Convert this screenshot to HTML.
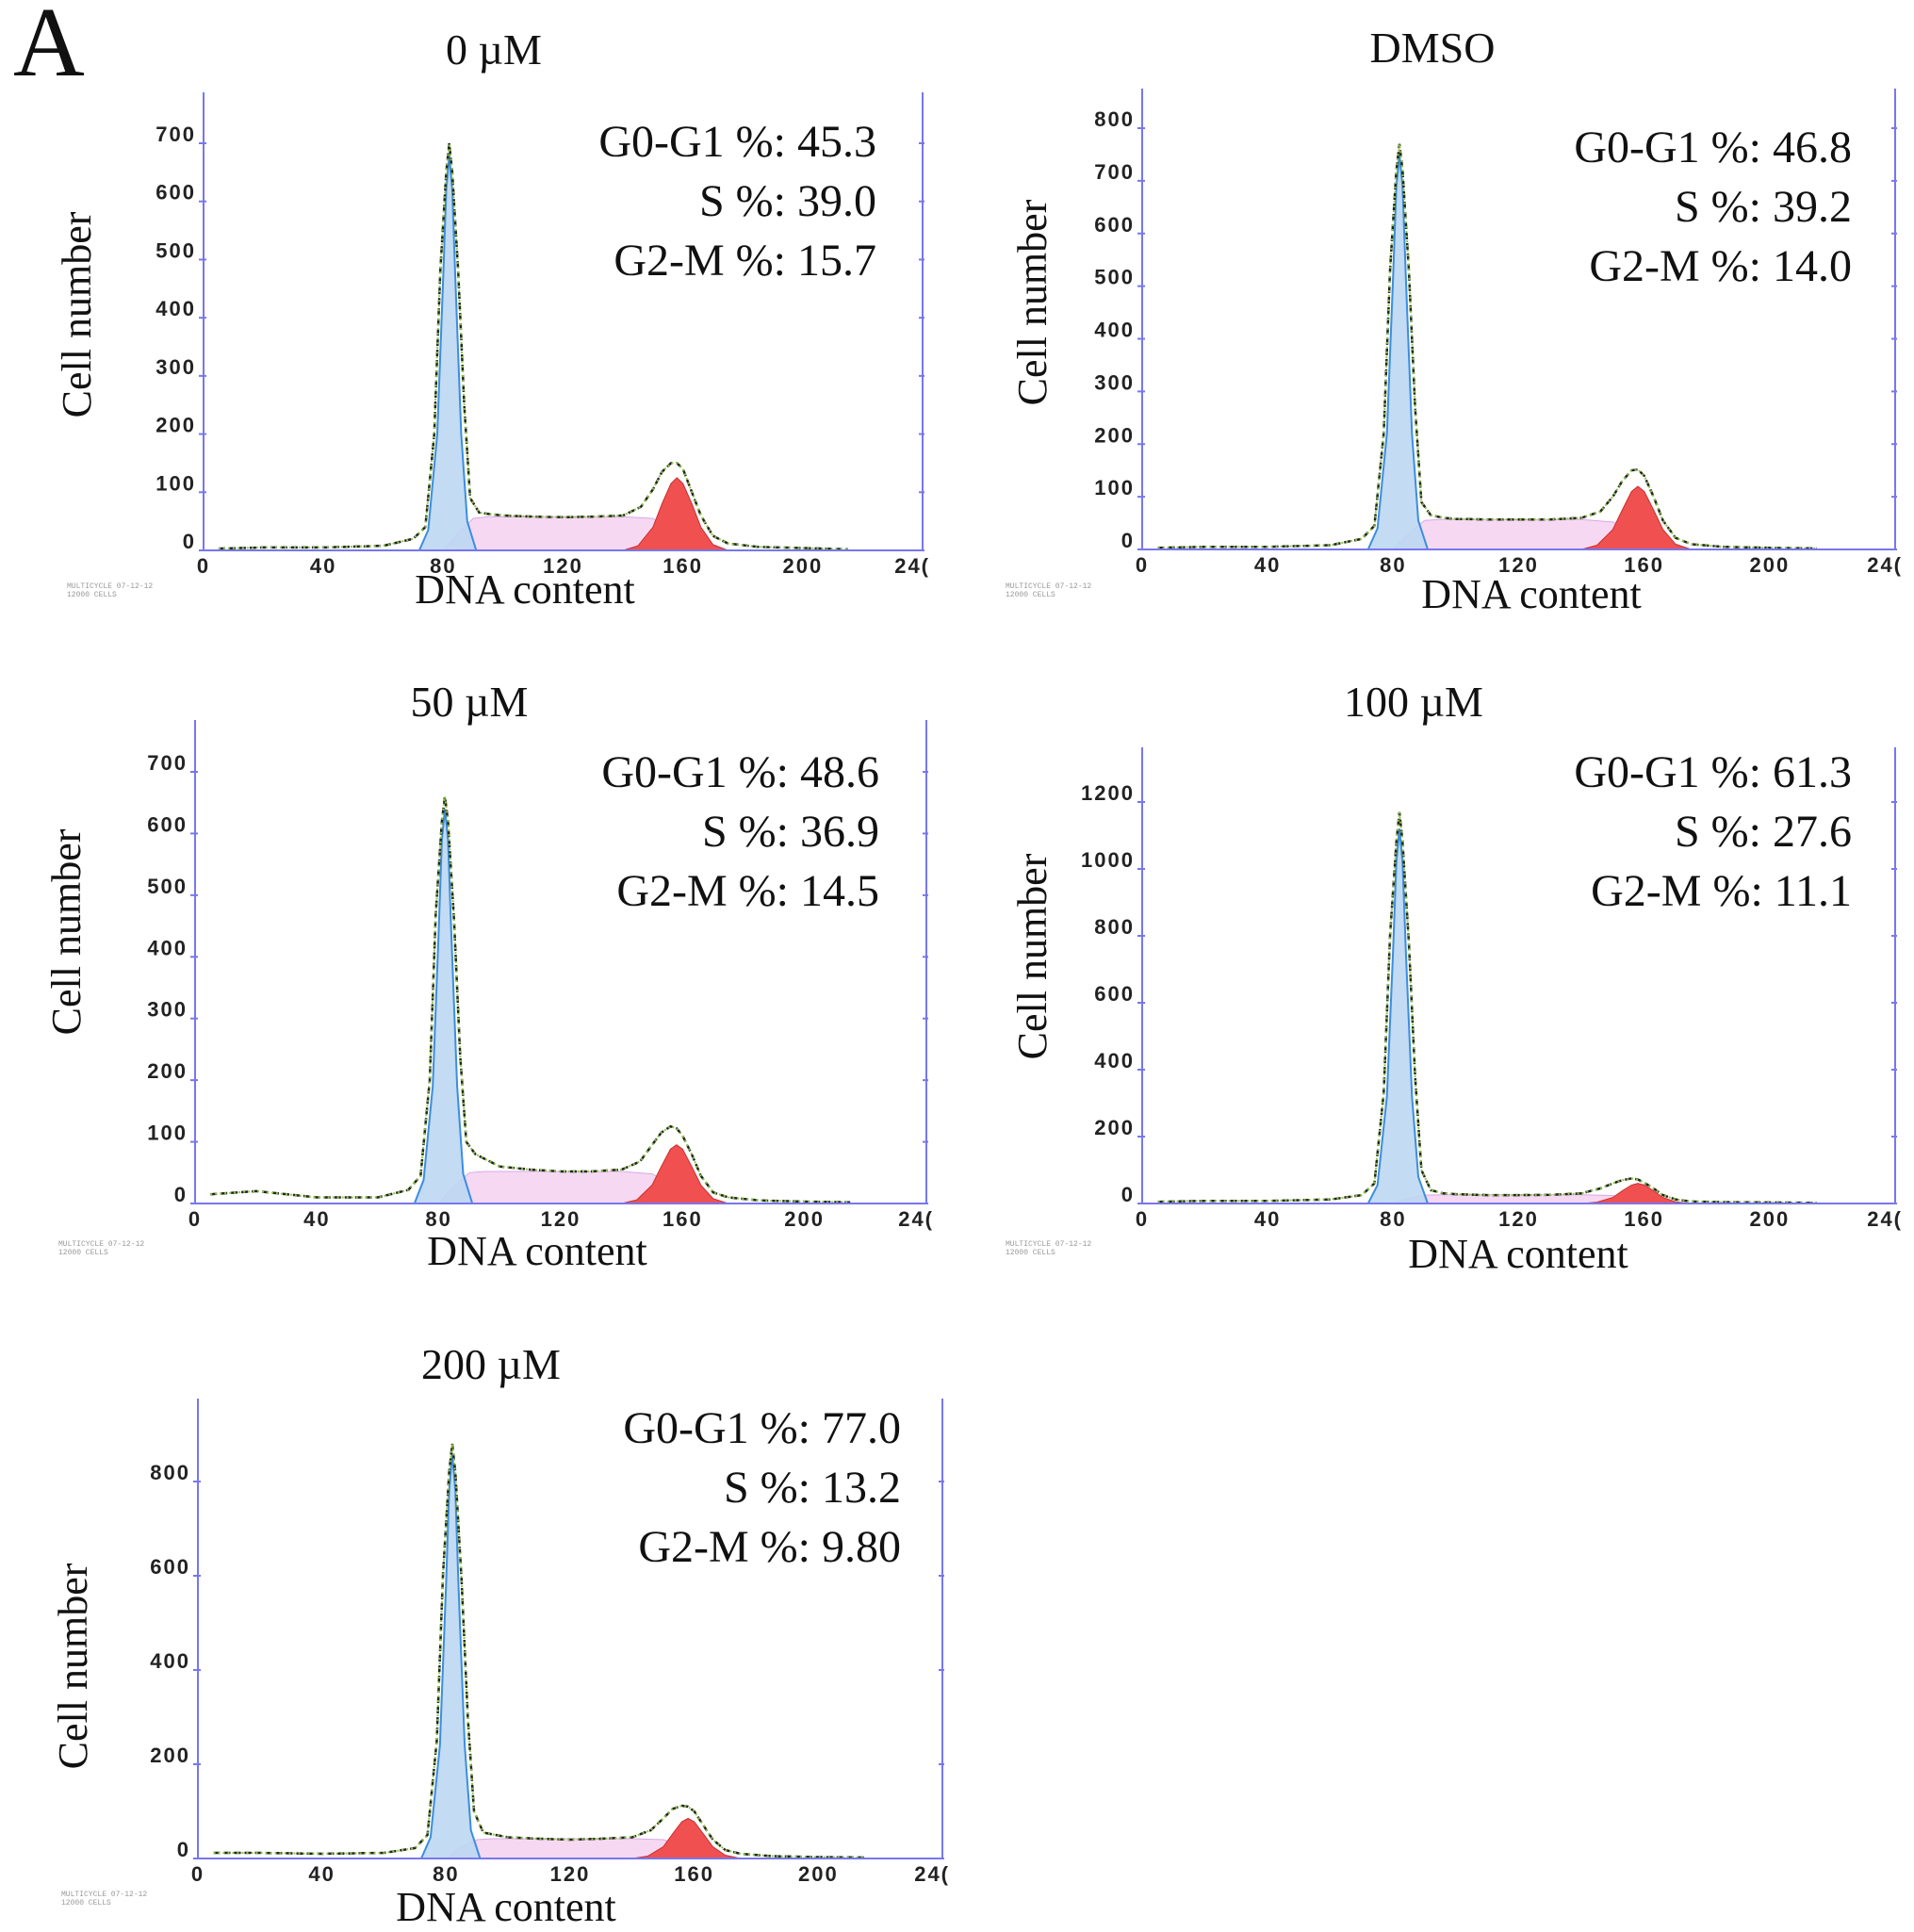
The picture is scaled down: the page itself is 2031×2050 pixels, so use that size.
<!DOCTYPE html>
<html><head><meta charset="utf-8"><style>
html,body{margin:0;padding:0;background:#fff;}
svg{display:block;}
.t{font-family:"Liberation Serif",serif;fill:#111;}
.tk{font-family:"Liberation Sans",sans-serif;font-weight:bold;font-size:22px;fill:#222;letter-spacing:2px;}
</style></head><body>
<svg id="fig" width="2031" height="2050" viewBox="0 0 2031 2050" xmlns="http://www.w3.org/2000/svg">
<text class="t" x="14" y="80" font-size="105">A</text>
</svg>
<script>
const xs=[5,20,40,60,70,74,77,79,81,82,83,85,87,89,92,96,100,110,120,130,140,146,150,153,156,158,160,163,166,170,175,185,200,215];
const g1x=[72,75,78,80,81,82,83,84,86,88,91];
const sx=[80,85,90,95,140,150,160,170];
const g2x=[140,145,150,153,156,158,160,163,166,170,175];
const xTicks=[0,40,80,120,160,200,240];
const xTickLabels=["0","40","80","120","160","200","24("];
const titles=["0 µM","DMSO","50 µM","100 µM","200 µM"];
const g1Pct=["45.3","46.8","48.6","61.3","77.0"];
const sPct=["39.0","39.2","36.9","27.6","13.2"];
const g2Pct=["15.7","14.0","14.5","11.1","9.80"];
const yTicks1=[0,100,200,300,400,500,600,700];
const yTicks2=[0,100,200,300,400,500,600,700,800];
const yTicks3=[0,100,200,300,400,500,600,700];
const yTicks4=[0,200,400,600,800,1000,1200];
const yTicks5=[0,200,400,600,800];
const total1=[3,5,5,8,20,40,200,480,650,700,650,480,250,90,65,62,60,58,57,58,60,75,105,135,150,150,140,100,60,25,12,6,4,2];
const total2=[3,5,5,8,20,45,220,530,720,770,720,530,270,90,65,60,58,57,57,57,60,72,100,130,150,152,140,100,55,22,10,5,3,2];
const total3=[15,20,10,10,22,45,200,470,620,660,620,460,240,100,80,70,60,55,52,52,55,68,95,115,125,122,110,80,45,18,10,5,3,2];
const total4=[5,8,8,12,25,60,330,800,1080,1170,1080,780,380,100,40,30,28,25,25,26,30,45,60,70,75,72,62,45,25,12,6,4,3,2];
const total5=[12,12,10,12,22,50,250,600,820,880,820,590,300,100,55,50,45,42,40,42,45,60,85,105,112,110,100,70,40,18,10,5,3,2];
const g1v1=[0,35,200,470,620,680,620,470,200,50,0];
const g1v2=[0,40,220,520,690,750,690,520,220,55,0];
const g1v3=[0,38,190,450,590,640,590,450,190,48,0];
const g1v4=[0,55,320,760,1020,1120,1020,760,320,80,0];
const g1v5=[0,45,240,580,780,860,780,580,240,60,0];
const sv1=[0,30,55,58,58,55,25,0];
const sv2=[0,30,55,57,57,52,25,0];
const sv3=[0,28,50,52,52,48,22,0];
const sv4=[0,15,25,26,26,24,12,0];
const sv5=[0,25,40,42,42,40,20,0];
const g2v1=[0,8,40,80,115,125,115,80,40,10,0];
const g2v2=[0,8,38,75,110,120,110,75,38,10,0];
const g2v3=[0,6,30,60,88,95,88,60,30,8,0];
const g2v4=[0,4,18,38,55,60,55,38,18,5,0];
const g2v5=[0,5,25,52,78,85,78,52,25,7,0];

const NS="http://www.w3.org/2000/svg";
const svg=document.getElementById('fig');
function mk(tag,attrs,parent,txt){const e=document.createElementNS(NS,tag);for(const k in attrs)e.setAttribute(k,attrs[k]);if(txt!==undefined)e.textContent=txt;(parent||svg).appendChild(e);return e;}

const panels=[
 {L:216,R:979,T:98,B:584,tv:700,tp:152,yt:yTicks1,tot:total1,g1:g1v1,s:sv1,g2:g2v1,tx:524,ty:68,sr:930,sy:[166,229,292],cx:86,cy:334,dx:557,dy:640,fy:624},
 {L:1212,R:2011,T:94,B:583,tv:800,tp:136,yt:yTicks2,tot:total2,g1:g1v2,s:sv2,g2:g2v2,tx:1520,ty:66,sr:1965,sy:[172,235,298],cx:1100,cy:321,dx:1625,dy:645,fy:624},
 {L:207,R:983,T:764,B:1277,tv:700,tp:819,yt:yTicks3,tot:total3,g1:g1v3,s:sv3,g2:g2v3,tx:498,ty:760,sr:933,sy:[835,898,961],cx:75,cy:989,dx:570,dy:1342,fy:1322},
 {L:1212,R:2011,T:793,B:1277,tv:1200,tp:851,yt:yTicks4,tot:total4,g1:g1v4,s:sv4,g2:g2v4,tx:1500,ty:760,sr:1965,sy:[835,898,961],cx:1100,cy:1015,dx:1611,dy:1345,fy:1322},
 {L:210,R:1000,T:1484,B:1972,tv:800,tp:1572,yt:yTicks5,tot:total5,g1:g1v5,s:sv5,g2:g2v5,tx:521,ty:1463,sr:956,sy:[1531,1594,1657],cx:82,cy:1768,dx:537,dy:2038,fy:2012}
];

panels.forEach((p,i)=>{
  const g=mk('g',{});
  
  
  const X=v=>p.L+(v/240)*(p.R-p.L);
  const Y=v=>p.B-(v/p.tv)*(p.B-p.tp);
  const pts=(xa,ya)=>xa.map((x,k)=>X(x).toFixed(1)+','+Y(ya[k]).toFixed(1)).join(' ');
  const area=(xa,ya)=>'M'+X(xa[0])+','+Y(0)+' L'+pts(xa,ya)+' L'+X(xa[xa.length-1])+','+Y(0)+' Z';
  let e=mk('path',{d:area(sx,p.s),fill:'#f6d8f2',stroke:'#d9a8e8','stroke-width':1},g);
  
  e=mk('path',{d:area(g1x,p.g1),fill:'#bcd7f2','fill-opacity':0.9,stroke:'#3a8ee0','stroke-width':2},g);
  
  e=mk('path',{d:area(g2x,p.g2),fill:'#f05050',stroke:'#c83030','stroke-width':1},g);
  
  e=mk('polyline',{points:pts(xs,p.tot),fill:'none',stroke:'#222','stroke-width':2.5,'stroke-dasharray':'7,4'},g);
  
  e=mk('polyline',{points:pts(xs,p.tot),fill:'none',stroke:'#8cc63f','stroke-width':2,'stroke-dasharray':'2,3'},g);
  
  e=mk('line',{x1:p.L,y1:p.T,x2:p.L,y2:p.B,stroke:'#7777ee','stroke-width':2},g);
  
  e=mk('line',{x1:p.R,y1:p.T,x2:p.R,y2:p.B,stroke:'#7777ee','stroke-width':2},g);
  
  e=mk('line',{x1:p.L,y1:p.B,x2:p.R,y2:p.B,stroke:'#7777ee','stroke-width':2},g);
  
  p.yt.forEach(v=>{
    let t=mk('line',{x1:p.L-5,y1:Y(v),x2:p.L+3,y2:Y(v),stroke:'#7777ee','stroke-width':2},g);
    
    t=mk('line',{x1:p.R-4,y1:Y(v),x2:p.R+2,y2:Y(v),stroke:'#7777ee','stroke-width':2},g);
    
    t=mk('text',{class:'tk',x:p.L-8,y:Y(v)-2,'text-anchor':'end'},g,String(v));
    
  });
  xTicks.forEach((v,k)=>{
    let t=mk('text',{class:'tk',x:X(v),y:p.B+24,'text-anchor':k==xTicks.length-1?'end':'middle'},g,xTickLabels[k]);
    if(k==xTicks.length-1)t.setAttribute('x',p.R+8);
    
  });
  e=mk('text',{class:'t',x:p.tx,y:p.ty,'font-size':46,'text-anchor':'middle'},g,titles[i]);
  
  const lines=['G0-G1 %: '+g1Pct[i],'S %: '+sPct[i],'G2-M %: '+g2Pct[i]];
  lines.forEach((s,k)=>{
    let t=mk('text',{class:'t',x:p.sr,y:p.sy[k],'font-size':48,'text-anchor':'end'},g,s);
    
  });
  e=mk('text',{class:'t',x:p.cx,y:p.cy,'font-size':44,'text-anchor':'middle',transform:'rotate(-90 '+p.cx+' '+p.cy+')','dominant-baseline':'middle'},g,'Cell number');
  
  e=mk('text',{class:'t',x:p.dx,y:p.dy,'font-size':44,'text-anchor':'middle'},g,'DNA content');
  
  e=mk('text',{x:p.L-145,y:p.fy,'font-size':8,fill:'#999','font-family':'Liberation Mono, monospace'},g,'MULTICYCLE 07-12-12');
  
  e=mk('text',{x:p.L-145,y:p.fy+9,'font-size':8,fill:'#999','font-family':'Liberation Mono, monospace'},g,'12000 CELLS');
  
});
</script>
</body></html>
